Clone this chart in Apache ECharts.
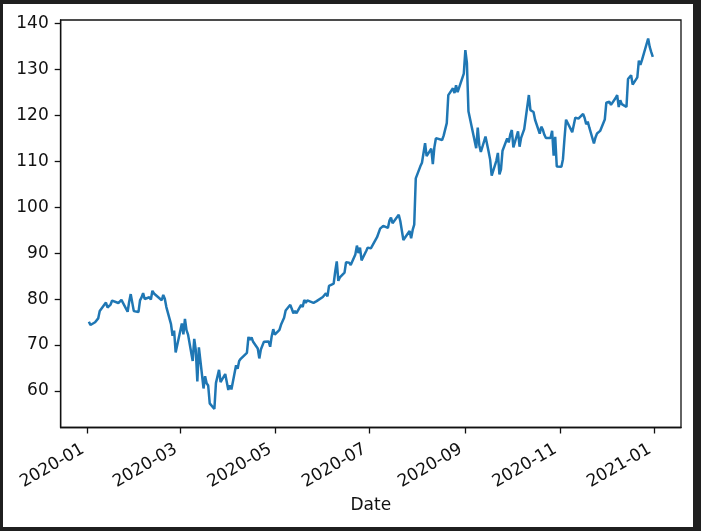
<!DOCTYPE html>
<html>
<head>
<meta charset="utf-8">
<script src="https://cdn.jsdelivr.net/npm/echarts@6/dist/echarts.min.js"></script>
<style>
html,body{margin:0;padding:0;background:#1f1f1f;width:701px;height:531px;overflow:hidden;}
#chart{position:absolute;left:3px;top:4px;width:690px;height:523px;background:#fff;}
</style>
</head>
<body>
<div id="chart"></div>
<script>
// AAPL daily close, 2020
const dates = [
"2020-01-02","2020-01-03","2020-01-06","2020-01-07","2020-01-08","2020-01-09","2020-01-10","2020-01-13","2020-01-14","2020-01-15","2020-01-16","2020-01-17","2020-01-21","2020-01-22","2020-01-23","2020-01-24","2020-01-27","2020-01-28","2020-01-29","2020-01-30","2020-01-31",
"2020-02-03","2020-02-04","2020-02-05","2020-02-06","2020-02-07","2020-02-10","2020-02-11","2020-02-12","2020-02-13","2020-02-14","2020-02-18","2020-02-19","2020-02-20","2020-02-21","2020-02-24","2020-02-25","2020-02-26","2020-02-27","2020-02-28",
"2020-03-02","2020-03-03","2020-03-04","2020-03-05","2020-03-06","2020-03-09","2020-03-10","2020-03-11","2020-03-12","2020-03-13","2020-03-16","2020-03-17","2020-03-18","2020-03-19","2020-03-20","2020-03-23","2020-03-24","2020-03-25","2020-03-26","2020-03-27","2020-03-30","2020-03-31",
"2020-04-01","2020-04-02","2020-04-03","2020-04-06","2020-04-07","2020-04-08","2020-04-09","2020-04-13","2020-04-14","2020-04-15","2020-04-16","2020-04-17","2020-04-20","2020-04-21","2020-04-22","2020-04-23","2020-04-24","2020-04-27","2020-04-28","2020-04-29","2020-04-30",
"2020-05-01","2020-05-04","2020-05-05","2020-05-06","2020-05-07","2020-05-08","2020-05-11","2020-05-12","2020-05-13","2020-05-14","2020-05-15","2020-05-18","2020-05-19","2020-05-20","2020-05-21","2020-05-22","2020-05-26","2020-05-27","2020-05-28","2020-05-29",
"2020-06-01","2020-06-02","2020-06-03","2020-06-04","2020-06-05","2020-06-08","2020-06-09","2020-06-10","2020-06-11","2020-06-12","2020-06-15","2020-06-16","2020-06-17","2020-06-18","2020-06-19","2020-06-22","2020-06-23","2020-06-24","2020-06-25","2020-06-26","2020-06-29","2020-06-30",
"2020-07-01","2020-07-02","2020-07-06","2020-07-07","2020-07-08","2020-07-09","2020-07-10","2020-07-13","2020-07-14","2020-07-15","2020-07-16","2020-07-17","2020-07-20","2020-07-21","2020-07-22","2020-07-23","2020-07-24","2020-07-27","2020-07-28","2020-07-29","2020-07-30","2020-07-31",
"2020-08-03","2020-08-04","2020-08-05","2020-08-06","2020-08-07","2020-08-10","2020-08-11","2020-08-12","2020-08-13","2020-08-14","2020-08-17","2020-08-18","2020-08-19","2020-08-20","2020-08-21","2020-08-24","2020-08-25","2020-08-26","2020-08-27","2020-08-28","2020-08-31",
"2020-09-01","2020-09-02","2020-09-03","2020-09-04","2020-09-08","2020-09-09","2020-09-10","2020-09-11","2020-09-14","2020-09-15","2020-09-16","2020-09-17","2020-09-18","2020-09-21","2020-09-22","2020-09-23","2020-09-24","2020-09-25","2020-09-28","2020-09-29","2020-09-30",
"2020-10-01","2020-10-02","2020-10-05","2020-10-06","2020-10-07","2020-10-08","2020-10-09","2020-10-12","2020-10-13","2020-10-14","2020-10-15","2020-10-16","2020-10-19","2020-10-20","2020-10-21","2020-10-22","2020-10-23","2020-10-26","2020-10-27","2020-10-28","2020-10-29","2020-10-30",
"2020-11-02","2020-11-03","2020-11-04","2020-11-05","2020-11-06","2020-11-09","2020-11-10","2020-11-11","2020-11-12","2020-11-13","2020-11-16","2020-11-17","2020-11-18","2020-11-19","2020-11-20","2020-11-23","2020-11-24","2020-11-25","2020-11-27","2020-11-30",
"2020-12-01","2020-12-02","2020-12-03","2020-12-04","2020-12-07","2020-12-08","2020-12-09","2020-12-10","2020-12-11","2020-12-14","2020-12-15","2020-12-16","2020-12-17","2020-12-18","2020-12-21","2020-12-22","2020-12-23","2020-12-24","2020-12-28","2020-12-29","2020-12-30","2020-12-31"
];
const closes = [
75.09,74.36,74.95,74.60,75.80,77.41,77.58,79.24,78.17,77.83,78.81,79.68,79.14,79.43,79.81,79.58,77.24,79.42,81.08,80.97,77.38,
77.17,79.71,80.36,81.30,80.01,80.39,79.90,81.80,81.22,81.24,79.75,80.90,80.07,78.26,74.54,72.02,73.16,68.38,68.34,
74.70,72.33,75.68,73.23,72.26,66.54,71.33,68.86,62.06,69.49,60.55,63.22,61.67,61.20,57.31,56.09,61.72,61.38,64.61,61.94,63.70,63.57,
60.23,61.23,60.35,65.62,64.86,66.52,67.00,68.31,71.76,71.11,71.67,70.70,69.23,67.09,69.03,68.76,70.74,70.79,69.64,71.93,73.45,
72.27,73.29,74.39,75.16,75.93,77.53,78.75,77.85,76.91,77.39,76.93,78.74,78.29,79.81,79.21,79.72,79.18,79.53,79.56,79.49,
80.46,80.83,81.28,80.58,82.88,83.36,86.00,88.21,83.97,84.70,85.75,88.02,87.90,87.93,87.43,89.72,91.63,90.01,91.21,88.41,90.45,91.20,
91.03,91.03,93.46,93.17,95.34,95.75,95.92,95.48,97.06,97.72,96.52,96.33,98.36,97.00,97.27,92.85,92.61,94.81,93.25,95.04,96.19,106.26,
108.94,109.67,110.06,113.90,111.11,112.73,109.38,113.01,115.01,114.91,114.61,115.56,115.71,118.28,124.37,125.86,124.83,126.52,125.01,124.81,129.04,
134.18,131.40,120.88,120.96,112.82,117.32,113.49,112.00,115.36,115.54,112.13,110.34,106.84,110.08,111.81,107.12,108.22,112.28,114.96,114.09,115.81,
116.79,113.02,116.50,113.16,115.08,114.97,116.97,124.40,121.10,121.19,120.71,119.02,115.98,117.51,116.87,115.75,115.04,115.05,116.60,111.20,115.32,108.86,
108.77,110.44,114.95,119.03,118.69,116.32,115.97,119.49,119.21,119.26,120.30,119.39,118.03,118.64,117.34,113.85,115.17,116.03,116.59,119.05,
122.72,123.08,122.94,122.25,123.75,124.38,121.78,123.24,122.41,121.78,127.88,127.81,128.70,126.66,128.23,131.88,130.96,131.97,136.69,134.87,133.72,132.69
];
const xTickLabels = ["2020-01","2020-03","2020-05","2020-07","2020-09","2020-11","2021-01"];
const yTicks = [60,70,80,90,100,110,120,130,140];

const ts = dates.map(d => Date.parse(d + "T00:00:00Z"));
const xFirst = ts[0], xLast = ts[ts.length - 1];
const xPad = (xLast - xFirst) * 0.05;
const yMinData = Math.min(...closes), yMaxData = Math.max(...closes);
const yPad = (yMaxData - yMinData) * 0.05;
const xTickValues = xTickLabels.map(s => Date.parse(s + "-01T00:00:00Z"));

const chart = echarts.init(document.getElementById('chart'), null, {renderer: 'canvas'});
const textColor = '#111';
const font = 'DejaVu Sans';
const fs = 17;
const axisColor = '#111';
chart.setOption({
  animation: false,
  backgroundColor: '#ffffff',
  grid: {left: 57.7, right: 12, top: 16, bottom: 99.5, show: true, borderColor: axisColor, borderWidth: 1.3, containLabel: false},
  xAxis: {
    type: 'value',
    min: xFirst - xPad,
    max: xLast + xPad,
    name: 'Date',
    nameLocation: 'middle',
    nameGap: 68.5,
    nameTextStyle: {color: textColor, fontFamily: font, fontSize: fs},
    splitLine: {show: false},
    axisLine: {show: true, lineStyle: {color: axisColor, width: 1.3}},
    axisTick: {show: true, inside: false, length: 6, lineStyle: {color: axisColor, width: 1.3}, customValues: xTickValues},
    axisLabel: {
      show: true, rotate: 30, margin: 18, padding: [0, 5, 0, 0], color: textColor, fontFamily: font, fontSize: fs,
      customValues: xTickValues,
      formatter: function (v) { const i = xTickValues.indexOf(v); return i >= 0 ? xTickLabels[i] : ''; }
    }
  },
  yAxis: {
    type: 'value',
    min: yMinData - yPad,
    max: yMaxData + yPad,
    splitLine: {show: false},
    axisLine: {show: true, lineStyle: {color: axisColor, width: 1.3}},
    axisTick: {show: true, inside: false, length: 6, lineStyle: {color: axisColor, width: 1.3}, customValues: yTicks},
    axisLabel: {show: true, margin: 12, color: textColor, fontFamily: font, fontSize: fs, customValues: yTicks, formatter: v => String(Math.round(v))}
  },
  series: [{
    type: 'line',
    data: ts.map((t, i) => [t, closes[i]]),
    showSymbol: false,
    symbol: 'none',
    lineStyle: {color: '#1f77b4', width: 2.5},
    itemStyle: {color: '#1f77b4'}
  }]
});
</script>
</body>
</html>
